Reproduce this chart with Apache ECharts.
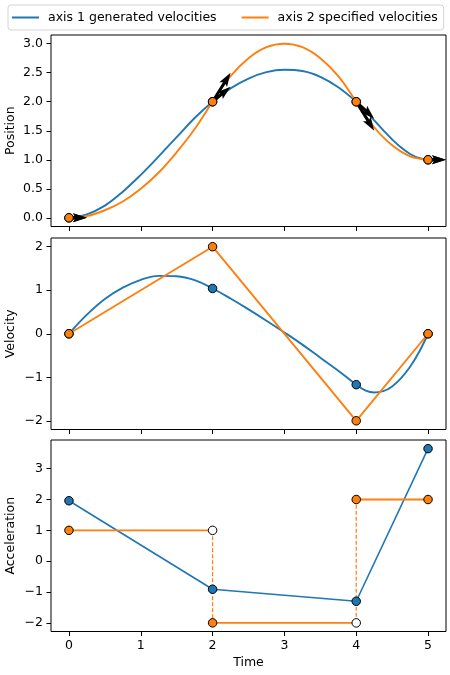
<!DOCTYPE html>
<html>
  <head>
    <meta charset="utf-8" />
    <title>Trajectory</title>
    <script src="https://cdn.jsdelivr.net/npm/echarts@6.0.0/dist/echarts.min.js"></script>
  </head>
  <body style="margin:0;background:#fff;">
    <div id="main" style="width: 450px;height:675px;"></div>
    <script type="text/javascript">
      // knots of the trajectory
      var knots = [0, 2, 4, 5];
      var knotPos = [0, 2, 2, 1];
      var blueKnotVel = [0, 1.04, -1.17, 0];
      var orangeKnotVel = [0, 2, -2, 0];
      var blueKnotAcc = [1.96, -0.91, -1.30, 3.65];
      var orangeSegAcc = [1, -2, 2];

      var curveT = [0, 0.25, 0.5, 0.75, 1, 1.25, 1.5, 1.75, 2, 2.25, 2.5, 2.75, 3, 3.25, 3.5, 3.75,
                    4, 4.125, 4.25, 4.375, 4.5, 4.625, 4.75, 4.875, 5];
      var bluePos = [0, 0.06, 0.21, 0.45, 0.74, 1.06, 1.39, 1.72, 2.00, 2.23, 2.40, 2.51, 2.55, 2.53, 2.43, 2.25,
                     2.00, 1.85, 1.68, 1.51, 1.35, 1.21, 1.10, 1.03, 1.00];
      var orangePos = [0, 0.03, 0.13, 0.28, 0.50, 0.78, 1.13, 1.53, 2.00, 2.44, 2.75, 2.94, 3.00, 2.94, 2.75, 2.44,
                       2.00, 1.77, 1.56, 1.39, 1.25, 1.14, 1.06, 1.02, 1.00];
      var blueVel = [0, 0.44, 0.80, 1.06, 1.24, 1.33, 1.32, 1.23, 1.04, 0.81, 0.56, 0.30, 0.03, -0.25, -0.55, -0.85,
                     -1.17, -1.30, -1.35, -1.32, -1.21, -1.02, -0.76, -0.42, 0];

      // tick labels
      var timeTicks = [0, 1, 2, 3, 4, 5];
      var posTicks = [0, 0.5, 1, 1.5, 2, 2.5, 3];
      var velTicks = [-2, -1, 0, 1, 2];
      var accTicks = [-2, -1, 0, 1, 2, 3];

      var BLUE = '#1f77b4', ORANGE = '#ff7f0e';
      var NAME1 = 'axis 1 generated velocities', NAME2 = 'axis 2 specified velocities';
      var FONT = 'DejaVu Sans', FS = 12.5, LW = 1.9;

      var myChart = echarts.init(document.getElementById('main'));

      function pairs(xs, ys) {
        return xs.map(function (x, i) { return [x, ys[i]]; });
      }
      function minus(v) { return String(v).replace('-', '\u2212'); }

      function xAxisFor(idx, withLabels) {
        return {
          type: 'value', gridIndex: idx, min: -0.25, max: 5.25,
          axisLine: { show: false, onZero: false },
          splitLine: { show: false },
          axisTick: { show: true, customValues: timeTicks, length: 4.5, lineStyle: { color: '#000', width: 1 } },
          axisLabel: { show: withLabels, customValues: timeTicks, margin: 8, color: '#000',
                       fontFamily: FONT, fontSize: FS },
          name: withLabels ? 'Time' : '',
          nameLocation: 'middle', nameGap: 25, nameMoveOverlap: false,
          nameTextStyle: { color: '#000', fontFamily: FONT, fontSize: FS }
        };
      }
      function yAxisFor(idx, name, min, max, ticks, fmt) {
        return {
          type: 'value', gridIndex: idx, min: min, max: max,
          axisLine: { show: false, onZero: false },
          splitLine: { show: false },
          axisTick: { show: true, customValues: ticks, length: 4.5, lineStyle: { color: '#000', width: 1 } },
          axisLabel: { customValues: ticks, margin: 8, color: '#000', fontFamily: FONT, fontSize: FS,
                       formatter: fmt },
          name: name, nameLocation: 'middle', nameGap: 34, nameMoveOverlap: false,
          nameTextStyle: { color: '#000', fontFamily: FONT, fontSize: FS }
        };
      }

      function renderArrow(params, api) {
        var t = api.value(0), y = api.value(1), v = api.value(2);
        var p0 = api.coord([t, y]);
        var p1 = api.coord([t + 0.25, y + 0.25 * v]);
        var dx = p1[0] - p0[0], dy = p1[1] - p0[1];
        var L = Math.sqrt(dx * dx + dy * dy);
        var ux = dx / L, uy = dy / L, nx = -uy, ny = ux;
        var w = 3, hl = 14, ha = 12, hw = 4.5;
        function pt(a, b) { return [p0[0] + ux * a + nx * b, p0[1] + uy * a + ny * b]; }
        return {
          type: 'polygon',
          shape: { points: [pt(0, w / 2), pt(L - ha, w / 2), pt(L - hl, hw), pt(L, 0),
                            pt(L - hl, -hw), pt(L - ha, -w / 2), pt(0, -w / 2)] },
          style: { fill: '#000' }
        };
      }

      function marker(idx, data, fill, z) {
        return {
          type: 'scatter', xAxisIndex: idx, yAxisIndex: idx, data: data,
          symbol: 'circle', symbolSize: 8.5, z: z || 5, silent: true,
          itemStyle: { color: fill, borderColor: '#000', borderWidth: 1, opacity: 1 }
        };
      }

      var arrowData = [];
      knots.forEach(function (k, i) {
        arrowData.push([k, knotPos[i], blueKnotVel[i]]);
        arrowData.push([k, knotPos[i], orangeKnotVel[i]]);
      });

      var series = [
        // position
        { name: NAME1, type: 'line', xAxisIndex: 0, yAxisIndex: 0, data: pairs(curveT, bluePos),
          smooth: 0.4, showSymbol: false, lineStyle: { color: BLUE, width: LW }, itemStyle: { color: BLUE } },
        { name: NAME2, type: 'line', xAxisIndex: 0, yAxisIndex: 0, data: pairs(curveT, orangePos),
          smooth: 0.4, showSymbol: false, lineStyle: { color: ORANGE, width: LW }, itemStyle: { color: ORANGE } },
        { type: 'custom', xAxisIndex: 0, yAxisIndex: 0, data: arrowData, renderItem: renderArrow, z: 4, silent: true },
        marker(0, pairs(knots, knotPos), BLUE, 5),
        marker(0, pairs(knots, knotPos), ORANGE, 6),

        // velocity
        { type: 'line', xAxisIndex: 1, yAxisIndex: 1, data: pairs(curveT, blueVel),
          smooth: 0.4, showSymbol: false, lineStyle: { color: BLUE, width: LW } },
        { type: 'line', xAxisIndex: 1, yAxisIndex: 1, data: pairs(knots, orangeKnotVel),
          showSymbol: false, lineStyle: { color: ORANGE, width: LW } },
        marker(1, pairs(knots, blueKnotVel), BLUE, 5),
        marker(1, pairs(knots, orangeKnotVel), ORANGE, 6),

        // acceleration
        { type: 'line', xAxisIndex: 2, yAxisIndex: 2, data: pairs(knots, blueKnotAcc),
          showSymbol: false, lineStyle: { color: BLUE, width: 1.6 } },
        marker(2, pairs(knots, blueKnotAcc), BLUE, 6)
      ];

      var filled = [], hollow = [];
      orangeSegAcc.forEach(function (a, i) {
        series.push({ type: 'line', xAxisIndex: 2, yAxisIndex: 2,
          data: [[knots[i], a], [knots[i + 1], a]], showSymbol: false,
          lineStyle: { color: ORANGE, width: LW } });
        filled.push([knots[i], a]);
        if (i < orangeSegAcc.length - 1) {
          hollow.push([knots[i + 1], a]);
          series.push({ type: 'line', xAxisIndex: 2, yAxisIndex: 2,
            data: [[knots[i + 1], a], [knots[i + 1], orangeSegAcc[i + 1]]], showSymbol: false,
            lineStyle: { color: ORANGE, width: 1.2, type: [4, 2] } });
        }
      });
      filled.push([knots[knots.length - 1], orangeSegAcc[orangeSegAcc.length - 1]]);
      series.push(marker(2, filled, ORANGE, 5));
      series.push(marker(2, hollow, '#fff', 5));

      var gridBase = { left: 51, right: 4, height: 191.5, show: true, borderColor: '#000', borderWidth: 1,
                       backgroundColor: '#fff', containLabel: false, outerBoundsMode: 'none' };

      option = {
        animation: false,
        backgroundColor: '#fff',
        textStyle: { fontFamily: FONT },
        legend: {
          data: [NAME1, NAME2],
          left: 8, top: 5, width: 442,
          padding: [6, 6, 6, 4],
          itemGap: 25, itemWidth: 27, itemHeight: 2, icon: 'rect',
          borderColor: '#d4d4d4', borderWidth: 1, borderRadius: 3,
          textStyle: { color: '#000', fontFamily: FONT, fontSize: FS, padding: [0, 0, 0, 4] }
        },
        grid: [
          Object.assign({ top: 35 }, gridBase),
          Object.assign({ top: 238 }, gridBase),
          Object.assign({ top: 440 }, gridBase)
        ],
        xAxis: [xAxisFor(0, false), xAxisFor(1, false), xAxisFor(2, true)],
        yAxis: [
          yAxisFor(0, 'Position', -0.15, 3.15, posTicks, function (v) { return minus(v.toFixed(1)); }),
          yAxisFor(1, 'Velocity', -2.2, 2.2, velTicks, minus),
          yAxisFor(2, 'Acceleration', -2.28, 3.93, accTicks, minus)
        ],
        series: series
      };

      myChart.setOption(option);
    </script>
  </body>
</html>
